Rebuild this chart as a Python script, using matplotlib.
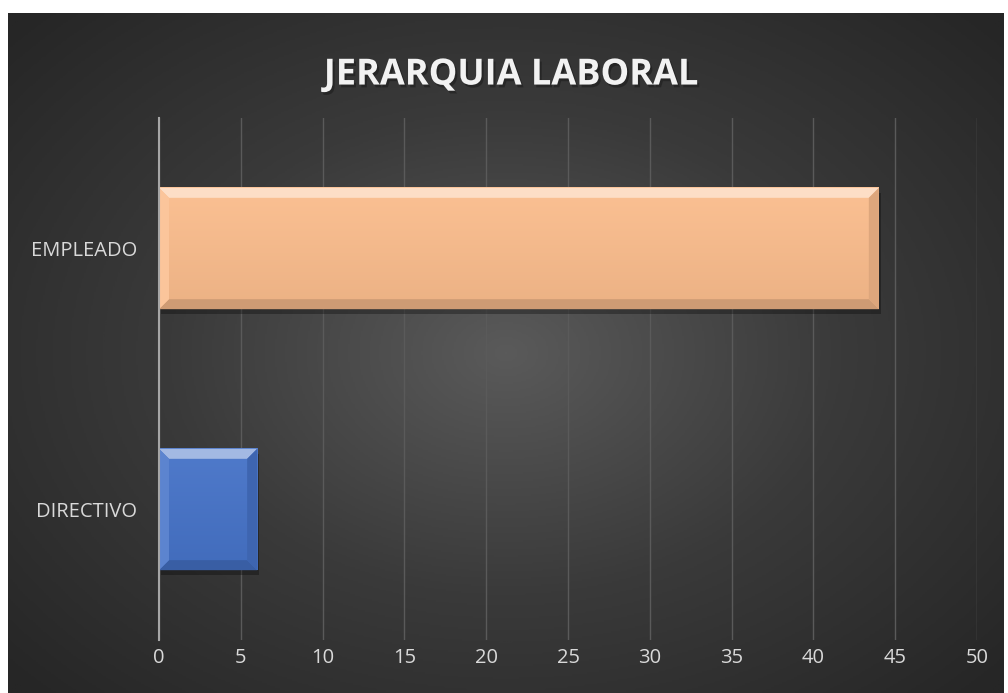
import numpy as np
import matplotlib.pyplot as plt
import matplotlib.patheffects as pe
from matplotlib.patches import Polygon, Rectangle
from matplotlib.colors import LinearSegmentedColormap, to_rgb

categories = ['DIRECTIVO', 'EMPLEADO']
values = [6, 44]
bar_colors = ['#4673C8', '#FBBD8D']
xticks = [0, 5, 10, 15, 20, 25, 30, 35, 40, 45, 50]
title = 'JERARQUIA LABORAL'

plt.rcParams['font.family'] = ['Open Sans', 'DejaVu Sans']

W, H = 1008, 693
fig = plt.figure(figsize=(W / 100, H / 100), dpi=100)
fig.patch.set_facecolor('white')

# chart area background: radial gradient, light centre, dark edges
bg = fig.add_axes([8 / W, 0, 996 / W, 680 / H])
bg.set_axis_off()
yy, xx = np.mgrid[-1:1:400j, -1:1:600j]
r = np.sqrt(xx ** 2 + (yy * 0.95) ** 2)
grad = np.clip(r / 1.35, 0, 1)
cmap = LinearSegmentedColormap.from_list('bg', ['#5a5a5a', '#3a3a3a', '#262626'])
bg.imshow(grad, cmap=cmap, aspect='auto', extent=[0, 1, 0, 1], vmin=0, vmax=1)
bg.set_xlim(0, 1)
bg.set_ylim(0, 1)

# title with soft shadow
bg.text(0.505, 0.908, title, ha='center', va='center', color='#f2f2f2',
        fontsize=26, fontweight='bold', transform=bg.transAxes,
        path_effects=[pe.SimplePatchShadow(offset=(1.5, -2), shadow_rgbFace='black', alpha=0.28),
                      pe.Normal()])

# plot area
left, right = 159 / W, 977 / W
bottom, top = (H - 640) / H, (H - 118) / H
ax = fig.add_axes([left, bottom, right - left, top - bottom])
ax.patch.set_alpha(0)
ax.set_xlim(0, 50)
ax.set_ylim(-0.5, 1.5)

ypos = np.arange(len(categories))
bars = ax.barh(ypos, values, height=0.465, color=bar_colors, zorder=3)

ax.set_xticks(xticks)
ax.set_yticks(ypos)
ax.set_yticklabels(categories)
ax.tick_params(axis='both', length=0, colors='#d9d9d9', labelsize=14.5)
ax.tick_params(axis='x', pad=6)
ax.tick_params(axis='y', pad=16)
ax.grid(axis='x', color='#5a5a5a', linewidth=1, zorder=0)
for s in ['top', 'right', 'bottom']:
    ax.spines[s].set_visible(False)
ax.spines['left'].set_color('#a6a6a6')
ax.spines['left'].set_linewidth(1.5)
ax.spines['left'].set_zorder(5)

# bevel effect on bars
fig.canvas.draw()
inv = ax.transData.inverted()
o = inv.transform((0, 0))
bx, by = inv.transform((10, 10)) - o
sx, sy = inv.transform((4, -5)) - o


def shade(c, f):
    c = np.array(to_rgb(c))
    if f > 0:
        return tuple(c + (1 - c) * f)
    return tuple(c * (1 + f))


for b, c in zip(bars, bar_colors):
    x0, y0 = b.get_x(), b.get_y()
    x1, y1 = x0 + b.get_width(), y0 + b.get_height()
    # drop shadow
    ax.add_patch(Rectangle((x0 + sx * 0.5, y0 + sy), x1 - x0, y1 - y0,
                           color='black', alpha=0.3, zorder=2, lw=0))
    # main face, slight vertical gradient
    g = np.linspace(0, 1, 50).reshape(-1, 1)
    cm = LinearSegmentedColormap.from_list('f', [shade(c, -0.06), shade(c, 0.05)])
    ax.imshow(g, cmap=cm, aspect='auto', extent=[x0, x1, y0, y1],
              origin='lower', zorder=3.5)
    topp = [(x0, y1), (x1, y1), (x1 - bx, y1 - by), (x0 + bx, y1 - by)]
    botp = [(x0, y0), (x1, y0), (x1 - bx, y0 + by), (x0 + bx, y0 + by)]
    lp = [(x0, y0), (x0, y1), (x0 + bx, y1 - by), (x0 + bx, y0 + by)]
    rp = [(x1, y0), (x1, y1), (x1 - bx, y1 - by), (x1 - bx, y0 + by)]
    ax.add_patch(Polygon(topp, color=shade(c, 0.5), zorder=4, lw=0))
    ax.add_patch(Polygon(botp, color=shade(c, -0.18), zorder=4, lw=0))
    ax.add_patch(Polygon(lp, color=shade(c, 0.12), zorder=4, lw=0))
    ax.add_patch(Polygon(rp, color=shade(c, -0.12), zorder=4, lw=0))

ax.set_xlim(0, 50)
ax.set_ylim(-0.5, 1.5)

fig.savefig('out.png', dpi=100, facecolor='white')
